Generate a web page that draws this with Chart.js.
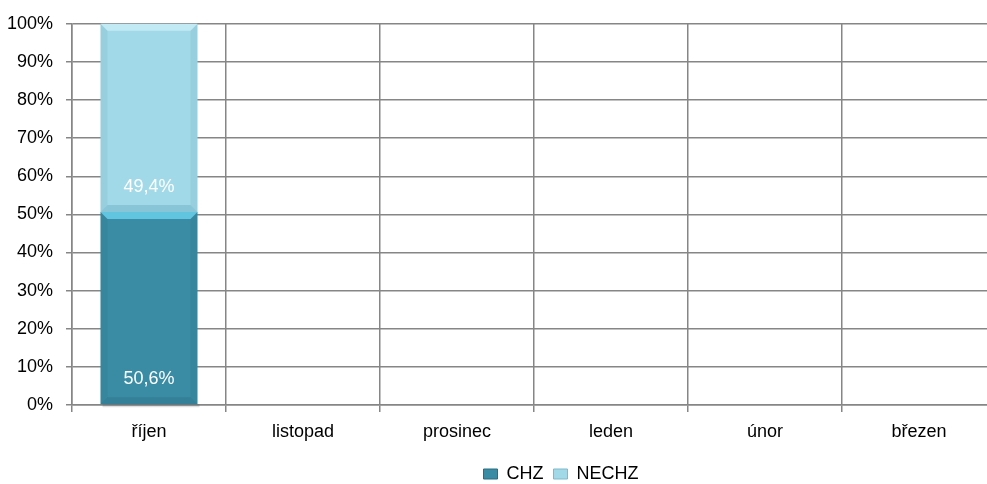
<!DOCTYPE html>
<html>
<head>
<meta charset="utf-8">
<script src="https://cdn.jsdelivr.net/npm/chart.js@4/dist/chart.umd.min.js"></script>
<style>
  html, body { margin: 0; padding: 0; background: #fff; overflow: hidden; }
  #wrap { width: 1122px; height: 484px; }
</style>
</head>
<body>
<div id="wrap"><canvas id="chart"></canvas></div>
<script>
// months (categories)
const months = ["říjen", "listopad", "prosinec", "leden", "únor", "březen"];
// shares in percent, only October is filled
const chzValues = [50.6, null, null, null, null, null];
const nechzValues = [49.4, null, null, null, null, null];
const seriesNames = ["CHZ", "NECHZ"];

const darkTeal = "#3a8ca4";
const lightTeal = "#a2d9e8";
const gridGrey = "#868686";
const sans = "'Liberation Sans', Arial, sans-serif";

// white value labels sitting near the base of each segment
const valueLabels = {
  id: "valueLabels",
  afterDatasetsDraw(chart) {
    const ctx = chart.ctx;
    ctx.save();
    ctx.font = "18px " + sans;
    ctx.fillStyle = "#ffffff";
    ctx.textAlign = "center";
    ctx.textBaseline = "middle";
    chart.data.datasets.forEach((ds, di) => {
      chart.getDatasetMeta(di).data.forEach((bar, i) => {
        const v = ds.data[i];
        if (v == null) return;
        const txt = v.toFixed(1).replace(".", ",") + "%";
        ctx.fillText(txt, bar.x, bar.base - 25);
      });
    });
    ctx.restore();
  }
};

// bevel look on the bars
const bevel = {
  id: "bevel",
  beforeDatasetsDraw(chart) {
    // soft shadow under the stack
    const ctx = chart.ctx;
    const meta = chart.getDatasetMeta(0);
    ctx.save();
    meta.data.forEach((bar, i) => {
      if (chart.data.datasets[0].data[i] == null) return;
      const l = bar.x - bar.width / 2;
      ctx.fillStyle = "rgba(0,0,0,0.12)";
      ctx.fillRect(l + 2, bar.base, bar.width, 3);
    });
    ctx.restore();
  },
  afterDatasetsDraw(chart) {
    const ctx = chart.ctx;
    ctx.save();
    chart.data.datasets.forEach((ds, di) => {
      chart.getDatasetMeta(di).data.forEach((bar, i) => {
        if (ds.data[i] == null) return;
        const l = bar.x - bar.width / 2, r = bar.x + bar.width / 2;
        const t = bar.y, b = bar.base, d = 7;
        // top light edge
        ctx.fillStyle = di === 0 ? "rgba(100,200,228,0.95)" : "rgba(200,236,246,0.85)";
        ctx.beginPath();
        ctx.moveTo(l, t); ctx.lineTo(r, t); ctx.lineTo(r - d, t + d); ctx.lineTo(l + d, t + d);
        ctx.closePath(); ctx.fill();
        // bottom darker edge
        ctx.fillStyle = di === 0 ? "rgba(20,80,100,0.18)" : "rgba(60,140,165,0.25)";
        ctx.beginPath();
        ctx.moveTo(l, b); ctx.lineTo(r, b); ctx.lineTo(r - d, b - d); ctx.lineTo(l + d, b - d);
        ctx.closePath(); ctx.fill();
        // faint sides
        ctx.fillStyle = "rgba(0,50,70,0.06)";
        ctx.beginPath();
        ctx.moveTo(r, t); ctx.lineTo(r, b); ctx.lineTo(r - d, b - d); ctx.lineTo(r - d, t + d);
        ctx.closePath(); ctx.fill();
        ctx.beginPath();
        ctx.moveTo(l, t); ctx.lineTo(l, b); ctx.lineTo(l + d, b - d); ctx.lineTo(l + d, t + d);
        ctx.closePath(); ctx.fill();
      });
    });
    ctx.restore();
  }
};

Chart.defaults.font.family = sans;
Chart.defaults.font.size = 18;
Chart.defaults.color = "#000000";

new Chart(document.getElementById("chart"), {
  type: "bar",
  plugins: [bevel, valueLabels],
  data: {
    labels: months,
    datasets: [
      { label: seriesNames[0], data: chzValues, backgroundColor: darkTeal },
      { label: seriesNames[1], data: nechzValues, backgroundColor: lightTeal }
    ]
  },
  options: {
    responsive: true,
    maintainAspectRatio: false,
    animation: false,
    categoryPercentage: 1,
    barPercentage: 0.63,
    layout: { padding: { left: 0, right: 0, top: 19, bottom: -9 } },
    plugins: {
      tooltip: { enabled: false },
      legend: {
        position: "bottom",
        labels: {
          boxWidth: 14,
          boxHeight: 10,
          padding: 10,
          font: { size: 18 },
          generateLabels(chart) {
            return chart.data.datasets.map((ds, i) => ({
              text: ds.label,
              fillStyle: ds.backgroundColor,
              strokeStyle: i === 0 ? "#2a6c80" : "#7fb9c9",
              lineWidth: 1,
              datasetIndex: i
            }));
          }
        }
      }
    },
    scales: {
      x: {
        stacked: true,
        offset: true,
        afterFit: (s) => { s.height = 50; },
        grid: {
          color: gridGrey,
          lineWidth: 1.5,
          offset: true,
          tickLength: 7
        },
        border: { color: gridGrey, width: 1.5 },
        ticks: { padding: 9 }
      },
      y: {
        stacked: true,
        min: 0,
        max: 100,
        afterFit: (s) => { s.width = 72; },
        grid: { color: gridGrey, lineWidth: 1.5, tickLength: 6 },
        border: { color: gridGrey, width: 1.5 },
        ticks: {
          stepSize: 10,
          padding: 13,
          callback: (v) => v + "%"
        }
      },
      // empty space on the right: the plot runs past the window edge
      yRight: {
        position: "right",
        afterFit: (s) => { s.width = 126; },
        grid: { display: false },
        border: { display: false },
        ticks: { display: false }
      }
    }
  }
});
</script>
</body>
</html>
